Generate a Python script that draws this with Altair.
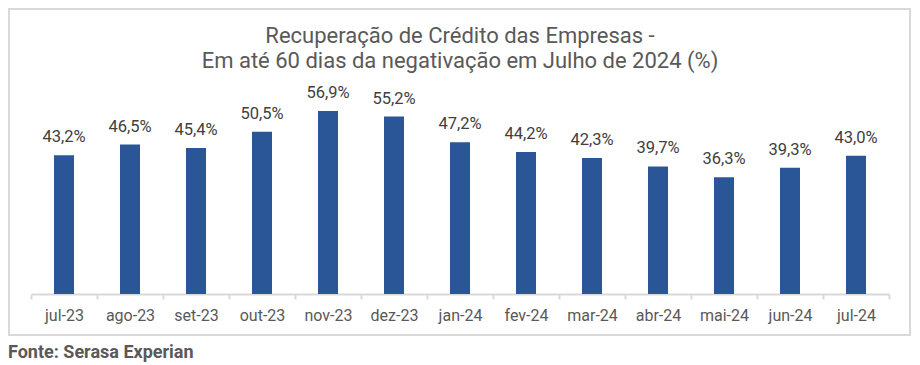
import altair as alt
import pandas as pd

months = ["jul-23", "ago-23", "set-23", "out-23", "nov-23", "dez-23", "jan-24",
          "fev-24", "mar-24", "abr-24", "mai-24", "jun-24", "jul-24"]
values = [43.2, 46.5, 45.4, 50.5, 56.9, 55.2, 47.2, 44.2, 42.3, 39.7, 36.3, 39.3, 43.0]
labels = [f"{v:.1f}%".replace(".", ",") for v in values]
title_lines = ["Recuperação de Crédito das Empresas -",
               "Em até 60 dias da negativação em Julho de 2024 (%)"]
footer = "Fonte: Serasa Experian"

df = pd.DataFrame({"mes": months, "valor": values, "rotulo": labels})

FONT = "Roboto"
x_enc = alt.X("mes:N", sort=months, title=None,
              scale=alt.Scale(paddingInner=0, paddingOuter=0),
              axis=alt.Axis(tickBand="extent", labelAngle=0, labelFont=FONT,
                            labelFontSize=16, labelColor="#595959", labelPadding=8,
                            domainColor="#d9d9d9", domainWidth=2,
                            tickColor="#d9d9d9", tickWidth=2, tickSize=5))
y_enc = alt.Y("valor:Q", title=None, scale=alt.Scale(domain=[0, 70], nice=False),
              axis=None)

base = alt.Chart(df)
bars = base.mark_bar(size=20, color="#2A5597").encode(x=x_enc, y=y_enc)
text = base.mark_text(baseline="alphabetic", dy=-13, font=FONT, fontSize=16.5,
                      color="#404040").encode(x=x_enc, y=y_enc, text="rotulo:N")

one = pd.DataFrame({"t": [footer]})
border = alt.Chart(one).mark_rect(fill="transparent", stroke="#d9d9d9",
                                  strokeWidth=2, clip=False).encode(
    x=alt.value(-22), x2=alt.value(879), y=alt.value(-60), y2=alt.value(266))
foot = alt.Chart(one).mark_text(align="left", baseline="middle", font=FONT,
                                fontSize=18, fontWeight="bold", color="#595959",
                                clip=False).encode(
    x=alt.value(-23), y=alt.value(284), text="t:N")

chart = alt.layer(border, bars, text, foot).properties(
    width=858, height=225,
    title=alt.Title(title_lines, font=FONT, fontSize=22, fontWeight="normal",
                    color="#595959", anchor="middle", lineHeight=25, offset=-65),
    padding={"left": 23, "top": 61, "right": 23, "bottom": 68},
    autosize=alt.AutoSizeParams(type="none"),
).configure_view(stroke=None)

chart.save("out.html", embed_options={"renderer": "svg", "actions": False})
